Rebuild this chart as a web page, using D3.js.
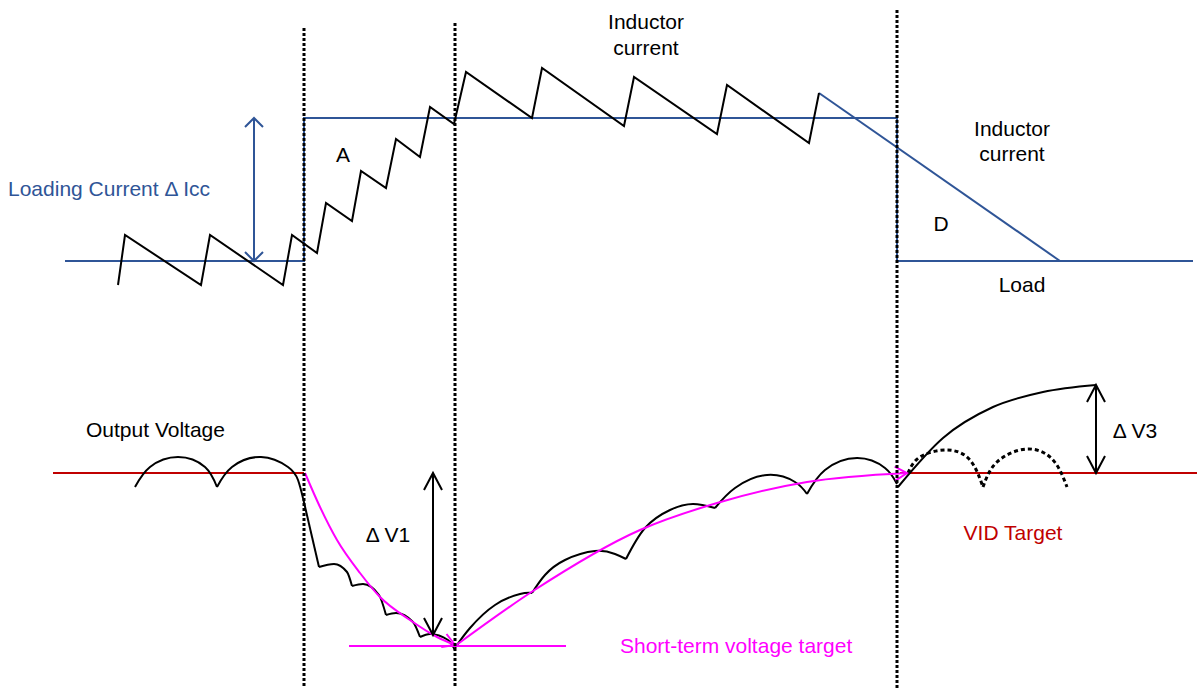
<!DOCTYPE html>
<html><head><meta charset="utf-8">
<script src="https://cdn.jsdelivr.net/npm/d3@7"></script>
<style>
body{margin:0;background:#fff}
text{font-family:"Liberation Sans",Arial,sans-serif;font-size:21px}
</style>
</head><body>
<svg id="c" width="1198" height="688"></svg>
<script>
// ---------- DATA (time in µs-like units, current in A, voltage deviation in mV) ----------
const eventTimes = [30.4, 45.5, 89.7];
const eventTops = [141.5, 144, 150.5];          // current units where dotted dividers start

const loadCurrent = [[6.5,25],[30.4,25],[30.4,96.5],[89.7,96.5]];
const loadCurrentAfter = [[89.7,96.5],[89.7,25],[119.3,25]];
const inductorCurrent = [
  [11.8,13],[12.5,38],[20.1,13],[21.0,38],[28.3,13],[29.2,38],
  [31.7,29],[32.6,54],[35.2,45],[36.1,70],[38.6,61.5],[39.6,86],
  [42.0,77],[43.0,102],[45.4,93.5],[46.6,119.5],[53.2,96.5],[54.2,121.5],
  [62.4,92.5],[63.4,117],[71.7,88.5],[72.7,113],[80.9,84],[81.9,109]
];
const inductorRampDown = [[81.9,109],[106.0,25]];
const deltaIcc = [25.4, 96.5, 25];               // time, top, bottom

const vidTargetLeft = [[5.3,0],[30.4,0]];
const vidTargetRight = [[90.0,0],[119.7,0]];

const steadyArcs = [
  [[13.5,-7],[15.0,3],[17.8,8],[20.5,3],[21.7,-7]],
  [[21.7,-7],[23.2,3],[26.1,8],[28.8,3],[29.8,-3.5],[30.3,-12.5]]
];
const dropLine = [[30.3,-12.5],[31.9,-47]];
const dropScallops = [
  [[31.9,-47],[33.4,-45.5],[34.7,-49.5],[35.2,-56.5]],
  [[35.2,-56.5],[36.3,-55.5],[37.9,-61],[38.6,-71]],
  [[38.6,-71],[39.6,-70],[41.3,-74.5],[42.0,-82]],
  [[42.0,-82],[43.0,-80.5],[44.8,-83.5],[45.5,-88.5]]
];
const recoveryArcs = [
  [[45.5,-87.5],[47.0,-77.5],[49.5,-66],[52.0,-60.5],[53.2,-60]],
  [[53.2,-60],[54.5,-51],[56.5,-43.5],[59.5,-39],[61.5,-40.5],[62.6,-43]],
  [[62.6,-43],[64.5,-27.5],[67.0,-18.5],[69.3,-15.5],[71.5,-17.5]],
  [[71.5,-17.5],[73.5,-7.5],[76.7,-1],[79.5,-4.5],[80.7,-10.5]],
  [[80.7,-10.5],[82.5,1.5],[85.7,7.5],[88.5,2.5],[89.7,-5.5]]
];
const overshoot = [[89.8,-7],[94.3,17.5],[99.3,33],[104.3,40.5],[109.6,44]];
const dottedRipple = [
  [[90.8,0],[92.0,8],[94.7,11.5],[97.0,6.5],[98.3,-7]],
  [[98.3,-7],[99.7,5.5],[102.7,12],[105.3,6.5],[106.7,-7]]
];
const shortTermDrop = [[30.5,0],[32.0,-17],[33.7,-33.5],[36.0,-50],[38.0,-62],[41.0,-73.5],[43.7,-82],[45.5,-86]];
const shortTermTarget = [[34.9,-86.5],[56.6,-86.5]];
const shortTermRecovery = [[45.5,-86.5],[53.3,-59],[64.0,-28.5],[71.7,-15],[80.7,-4.5],[90.7,0]];
const deltaV1 = [43.3, 0, -81];
const deltaV3 = [109.6, 44, 0];

const currentLabels = [
  ["Loading Current Δ Icc", 0.8, 57.5, "start"],
  ["A", 34.3, 74.5, "middle"],
  ["Inductor", 64.6, 141, "middle"],
  ["current", 64.6, 128, "middle"],
  ["Inductor", 101.2, 87.5, "middle"],
  ["current", 101.2, 75, "middle"],
  ["D", 94.1, 40, "middle"],
  ["Load", 102.2, 9.5, "middle"]
];
const voltageLabels = [
  ["Output Voltage", 8.6, 18, "start"],
  ["Δ V1", 38.8, -34.5, "middle"],
  ["Δ V3", 113.5, 17.5, "middle"],
  ["VID Target", 101.3, -33.5, "middle"],
  ["Short-term voltage target", 62.0, -90, "start"]
];

// ---------- RENDER ----------
const W = 1198, H = 688;
const BLUE = "#2F5597", RED = "#C00000", MAG = "#FF00FF";
const svg = d3.select("#c");
const x = d3.scaleLinear().domain([0, 119.8]).range([0, W]);
const yI = d3.scaleLinear().domain([0, 150]).range([311, 11]);
const yV = d3.scaleLinear().domain([0, -100]).range([473, 673]);

const defs = svg.append("defs");
defs.append("marker").attr("id","magArrow").attr("markerUnits","userSpaceOnUse")
  .attr("markerWidth",16).attr("markerHeight",16).attr("viewBox","0 0 16 16")
  .attr("refX",13).attr("refY",8).attr("orient","auto")
  .append("path").attr("d","M1,1 L13,8 L1,15").attr("fill","none").attr("stroke",MAG).attr("stroke-width",2);

const lineI = d3.line().x(d=>x(d[0])).y(d=>yI(d[1]));
const lineV = c => d3.line().x(d=>x(d[0])).y(d=>yV(d[1])).curve(c);

function path(d, stroke, w, dash){
  const p = svg.append("path").attr("d", d).attr("fill","none").attr("stroke",stroke)
    .attr("stroke-width", w).attr("stroke-linejoin","miter");
  if (dash) p.attr("stroke-dasharray", dash);
  return p;
}
function dblArrow(xp, y1, y2, color, hw, hh){
  path(`M${xp},${y1}L${xp},${y2}`, color, 2);
  const s = y2 > y1 ? 1 : -1;
  path(`M${xp-hw},${y1+s*hh}L${xp},${y1}L${xp+hw},${y1+s*hh}`, color, 2);
  path(`M${xp-hw},${y2-s*hh}L${xp},${y2}L${xp+hw},${y2-s*hh}`, color, 2);
}

// current panel
path(lineI(loadCurrent), BLUE, 2);
path(lineI(loadCurrentAfter), BLUE, 2);
path(lineI(inductorRampDown), BLUE, 2);
path(lineI(inductorCurrent), "#000", 2);
dblArrow(x(deltaIcc[0]), yI(deltaIcc[1]), yI(deltaIcc[2]), BLUE, 9, 9);

// voltage panel
path(lineV(d3.curveLinear)(vidTargetLeft), RED, 2);
path(lineV(d3.curveLinear)(vidTargetRight), RED, 2);
steadyArcs.forEach(a => path(lineV(d3.curveNatural)(a), "#000", 2));
path(lineV(d3.curveLinear)(dropLine), "#000", 2);
dropScallops.forEach(a => path(lineV(d3.curveMonotoneX)(a), "#000", 2));
recoveryArcs.forEach(a => path(lineV(d3.curveNatural)(a), "#000", 2));
path(lineV(d3.curveMonotoneX)(overshoot), "#000", 2);
dottedRipple.forEach(a => path(lineV(d3.curveNatural)(a), "#000", 3, "4,3"));
path(lineV(d3.curveMonotoneX)(shortTermDrop), MAG, 2).attr("marker-end","url(#magArrow)");
path(lineV(d3.curveLinear)(shortTermTarget), MAG, 2);
path(lineV(d3.curveMonotoneX)(shortTermRecovery), MAG, 2).attr("marker-end","url(#magArrow)");
dblArrow(x(deltaV1[0]), yV(deltaV1[1]), yV(deltaV1[2]), "#000", 9, 17);
dblArrow(x(deltaV3[0]), yV(deltaV3[1]), yV(deltaV3[2]), "#000", 9, 17);

// dotted event dividers
eventTimes.forEach((t,i) => {
  path(`M${x(t)},${yI(eventTops[i])}L${x(t)},${H}`, "#000", 3, "3,2");
});

// labels
const curColors = [BLUE, "#000","#000","#000","#000","#000","#000","#000"];
svg.selectAll("text.ci").data(currentLabels).join("text").attr("class","ci")
  .attr("x", d=>x(d[1])).attr("y", d=>yI(d[2])).attr("text-anchor", d=>d[3])
  .attr("fill", (d,i)=>curColors[i]).text(d=>d[0]);
const volColors = ["#000","#000","#000",RED,MAG];
svg.selectAll("text.vi").data(voltageLabels).join("text").attr("class","vi")
  .attr("x", d=>x(d[1])).attr("y", d=>yV(d[2])).attr("text-anchor", d=>d[3])
  .attr("fill", (d,i)=>volColors[i]).text(d=>d[0]);
</script>
</body></html>
